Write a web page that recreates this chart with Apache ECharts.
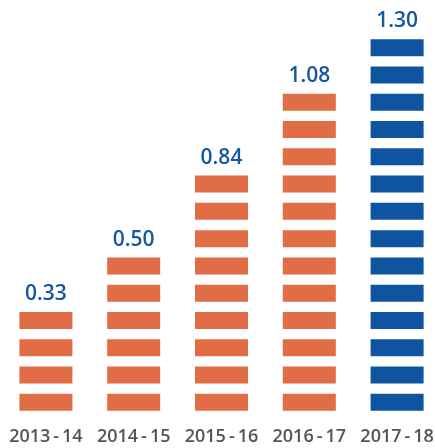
<!DOCTYPE html>
<html>
<head>
<meta charset="utf-8">
<script src="https://cdn.jsdelivr.net/npm/echarts@6/dist/echarts.min.js"></script>
<style>
    html, body { margin: 0; padding: 0; background: #fff; }
    #chart { width: 435px; height: 448px; }
</style>
</head>
<body>
<div id="chart"></div>
<script>
// 年度数据
var years = ['2013\u2009-\u200914', '2014\u2009-\u200915', '2015\u2009-\u200916', '2016\u2009-\u200917', '2017\u2009-\u200918'];
var values = [0.33, 0.50, 0.84, 1.08, 1.30];
// 每根柱子的小方块数
var blocks = [4, 6, 9, 12, 14];
var barColors = ['#e16d47', '#e16d47', '#e16d47', '#e16d47', '#0f54a0'];

var chart = echarts.init(document.getElementById('chart'));
var i, seriesData = [];
for (i = 0; i < blocks.length; i++) {
    seriesData.push({
        value: blocks[i],
        itemStyle: { color: barColors[i] }
    });
}

chart.setOption({
    animation: false,
    grid: {
        left: 2,
        width: 439,
        top: 34,
        bottom: 32,
        outerBoundsMode: 'none',
        containLabel: false
    },
    xAxis: {
        type: 'category',
        data: years,
        axisLine: { show: false },
        axisTick: { show: false },
        axisLabel: {
            interval: 0,
            margin: 12,
            color: '#555',
            fontSize: 18,
            fontWeight: 600,
            fontFamily: 'Open Sans'
        }
    },
    yAxis: {
        type: 'value',
        min: 0,
        max: 14,
        show: false
    },
    series: [
        {
            type: 'pictorialBar',
            symbol: 'rect',
            symbolRepeat: true,
            symbolSize: [53, 17],
            symbolMargin: '5.2!',
            label: {
                show: true,
                position: 'top',
                distance: 2,
                color: '#1557a0',
                fontSize: 21,
                fontWeight: 600,
                fontFamily: 'Open Sans',
                formatter: function(p) {
                    return values[p.dataIndex].toFixed(2);
                }
            },
            data: seriesData
        }
    ]
});
</script>
</body>
</html>
